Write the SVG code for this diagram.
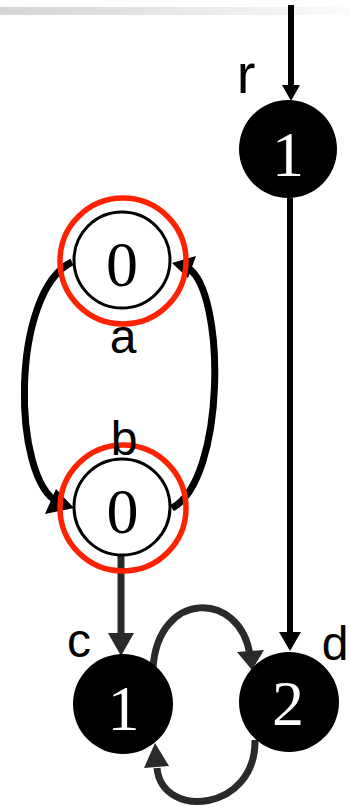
<svg xmlns="http://www.w3.org/2000/svg" width="350" height="809" viewBox="0 0 350 809">
  <defs>
    <linearGradient id="bar" x1="0" y1="0" x2="1" y2="0">
      <stop offset="0" stop-color="#d4d4d4"/>
      <stop offset="1" stop-color="#fbfbfb"/>
    </linearGradient>
  </defs>
  <style>
    .lbl { font-family: "Liberation Sans", Arial, sans-serif; font-size: 48px; fill: #000; text-anchor: middle; }
    .num { font-family: "Liberation Serif", "Times New Roman", serif; font-size: 64px; text-anchor: middle; }
    .black { fill: #000; }
    .white { fill: #fff; stroke: #000; stroke-width: 3; }
    .ring { fill: none; stroke: #ff2200; stroke-width: 5.5; }
    .e { fill: none; stroke: #000; stroke-width: 6; }
    .arc { fill: none; stroke: #000; stroke-width: 7; }
    .eg { fill: none; stroke: #2a2a2a; stroke-width: 7; }
    .h { fill: #000; }
    .hg { fill: #2a2a2a; }
  </style>
  <rect x="0" y="7" width="350" height="8" fill="url(#bar)"/>

  <g id="connectors">
    <line class="e" x1="291" y1="5" x2="291" y2="88"/>
    <polygon class="h" points="282,85 300,85 291,101"/>
    <line class="e" x1="290" y1="198" x2="290" y2="636"/>
    <polygon class="h" points="279,632 301,632 290,651"/>
    <path class="arc" d="M 72 262 C 10 292, 12 480, 58 502"/>
    <polygon class="h" points="74,508 45,514 56,489"/>
    <path class="arc" d="M 172 508 C 226 480, 226 292, 188 268"/>
    <polygon class="h" points="172,263 196,256 188,278"/>
    <line class="eg" x1="121" y1="555" x2="121" y2="637"/>
    <polygon class="hg" points="108,633 134,633 121,656"/>
    <path class="eg" d="M 153 668 C 158 590, 240 590, 250 655"/>
    <polygon class="hg" points="237,652 264,650 252,670"/>
    <path class="eg" d="M 255 740 C 256 812, 162 820, 157 768"/>
    <polygon class="hg" points="155,743 144,768 169,766"/>
  </g>

  <g id="node-r1">
    <circle class="black" cx="288" cy="149" r="49"/>
    <text class="num" x="288" y="176" fill="#fff">1</text>
  </g>
  <g id="node-a">
    <circle class="white" cx="122" cy="260" r="48"/>
    <circle class="ring" cx="123" cy="261" r="63"/>
    <text class="num" x="122" y="286" fill="#000">0</text>
  </g>
  <g id="node-b">
    <circle class="white" cx="122" cy="507" r="48"/>
    <circle class="ring" cx="123" cy="508" r="63"/>
    <text class="num" x="122.5" y="533" fill="#000">0</text>
  </g>
  <g id="node-c">
    <circle class="black" cx="123" cy="704" r="50"/>
    <text class="num" x="123.5" y="730" fill="#fff">1</text>
  </g>
  <g id="node-d">
    <circle class="black" cx="289" cy="702" r="50"/>
    <text class="num" x="288" y="725" fill="#fff">2</text>
  </g>

  <text class="lbl" x="246" y="93" style="font-size:56px">r</text>
  <text class="lbl" x="123" y="353">a</text>
  <text class="lbl" x="124" y="455">b</text>
  <text class="lbl" x="79" y="657">c</text>
  <text class="lbl" x="335" y="660">d</text>
</svg>
